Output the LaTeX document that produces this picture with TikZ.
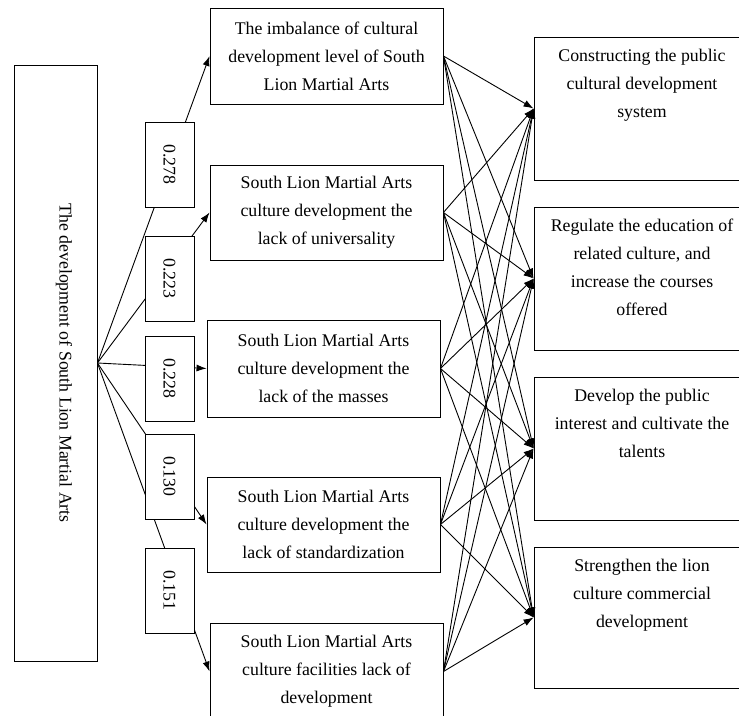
\documentclass[tikz,border=0pt]{standalone}
\usepackage{fontspec}
\setmainfont{Liberation Serif}
\usepackage{graphicx}
\usepackage{tikz}
\usetikzlibrary{arrows.meta}
\tikzset{%
  weighted/.style = {
    x=1pt, y=-1pt, line width=0.9pt,
    font=\fontsize{17.8}{28}\selectfont,
    box/.style = {shape=rectangle, draw, fill=white, align=center,
      inner sep=0pt},
    weightbox/.style = {box, minimum width=49pt, minimum height=85pt},
    probbox/.style = {box, minimum width=233pt},
    stratbox/.style = {box, minimum width=216pt, minimum height=143pt},
    strattext/.style = {anchor=north, align=center, inner sep=0pt},
    link/.style = {draw, -{Latex[length=10pt,width=7pt]}}
  }
}

\begin{document}
\begin{tikzpicture}[weighted]
  \useasboundingbox (0,0) rectangle (739,715);
  % goal
  \node[box, minimum width=83pt, minimum height=596pt] (dev) at (55.5,363) {};
  \node (devtext) at (64,363) {\rotatebox{-90}{The development of South Lion Martial Arts}};
  % problems
  \node[probbox, minimum height=96pt] (p1) at (326.5,56) {The imbalance of cultural\\ development level of South\\ Lion Martial Arts};
  \node[probbox, minimum height=95pt] (p2) at (326.5,212.5) {South Lion Martial Arts\\ culture development the\\ lack of universality};
  \node[probbox, minimum height=97pt] (p3) at (323.5,368.5) {South Lion Martial Arts\\ culture development the\\ lack of the masses};
  \node[probbox, minimum height=95pt] (p4) at (323.5,524.5) {South Lion Martial Arts\\ culture development the\\ lack of standardization};
  \node[probbox, minimum height=97pt] (p5) at (326.5,671.5) {South Lion Martial Arts\\ culture facilities lack of\\ development};
  % strategies
  \node[stratbox] (s1) at (642,108.5) {};
  \node[stratbox] (s2) at (642,278.5) {};
  \node[stratbox] (s3) at (642,448.5) {};
  \node[stratbox, minimum height=141pt] (s4) at (642,617.5) {};
  \node[strattext] (t1) at ([yshift=-12pt]s1.north) {Constructing the public\\ cultural development\\ system};
  \node[strattext] (t2) at ([yshift=-12pt]s2.north) {Regulate the education of\\ related culture, and\\ increase the courses\\ offered};
  \node[strattext] (t3) at ([yshift=-12pt]s3.north) {Develop the public\\ interest and cultivate the\\ talents};
  \node[strattext] (t4) at ([yshift=-12pt]s4.north) {Strengthen the lion\\ culture commercial\\ development};
  % links
  \foreach \i in {1,...,5} {
    \path[link] (dev.east) -- (p\i.west);
    \foreach \j in {1,...,4}
      \path[link] (p\i.east) -- (s\j.west);
  }
  % weights
  \node[weightbox] (w1) at (169.5,164.5) {\rotatebox{-90}{0.278}};
  \node[weightbox] (w2) at (169.5,278.5) {\rotatebox{-90}{0.223}};
  \node[weightbox] (w3) at (169.5,378.5) {\rotatebox{-90}{0.228}};
  \node[weightbox] (w4) at (169.5,476.5) {\rotatebox{-90}{0.130}};
  \node[weightbox] (w5) at (169.5,590.5) {\rotatebox{-90}{0.151}};
\end{tikzpicture}
\end{document}
